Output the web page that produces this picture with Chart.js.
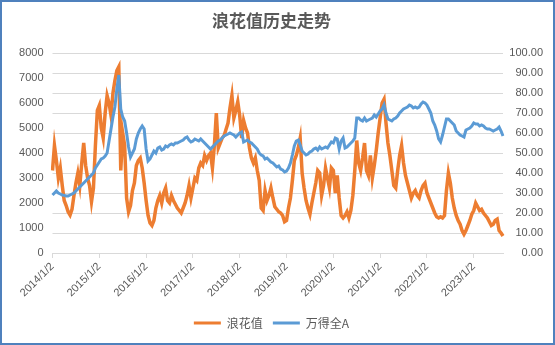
<!DOCTYPE html>
<html>
<head>
<meta charset="utf-8">
<script src="https://cdn.jsdelivr.net/npm/chart.js@4/dist/chart.umd.min.js"></script>
<style>
  html, body { margin: 0; padding: 0; background: #fff; }
  canvas { display: block; }
</style>
</head>
<body>
<canvas id="waveChart" width="555" height="345"></canvas>
<script>
// 半月一个点：每月2日、16日，2014/1 ~ 2023/8
const startYear = 2014;
const endYear = 2023;
const endMonth = 8;

// 浪花值（左轴）
const wave = [
  3300, 4300, 3700, 3000, 3400, 2700, 2100, 1900, 1650, 1520, 1750, 2300, 2800, 3200, 2700, 3600, 4400, 3500, 3000, 2700, 2050, 2600, 4300, 5700, // 2014
  5900, 5000, 4600, 5600, 6300, 6000, 5500, 6400, 6900, 7300, 7450, 3300, 4800, 4300, 2200, 1650, 1900, 2500, 2800, 3500, 3700, 3800, 3400, 2800, // 2015
  2100, 1500, 1200, 1100, 1300, 1800, 2100, 2300, 2000, 2400, 2600, 2100, 2000, 2300, 2100, 1950, 1800, 1700, 1600, 1800, 2000, 2300, 2700, 2200, // 2016
  2600, 3000, 2900, 3400, 3600, 3500, 3900, 3700, 3900, 4000, 3400, 4300, 5600, 4200, 4400, 4600, 4700, 4950, 5200, 5800, 6300, 5400, 5700, 6050, // 2017
  5500, 4600, 5300, 5000, 4800, 4200, 3800, 3600, 3800, 3300, 2900, 1800, 1700, 2500, 2100, 2300, 2600, 2200, 1850, 1750, 1650, 1600, 1500, 1250, // 2018
  1300, 1800, 2200, 2900, 3700, 3900, 4200, 4600, 3200, 2600, 2100, 1800, 1550, 2000, 2400, 2800, 3300, 3200, 2300, 2700, 3400, 3000, 2600, 3400, // 2019
  3300, 2400, 3100, 2200, 1500, 1400, 1500, 1650, 1400, 1700, 2300, 3300, 4500, 3600, 3300, 3800, 4400, 3300, 3100, 3900, 3000, 3500, 4100, 4800, // 2020
  5400, 6000, 6150, 5200, 4400, 3900, 3300, 2700, 2600, 3300, 3900, 4300, 3600, 3100, 2800, 2500, 2200, 2400, 2500, 2300, 2200, 2500, 2700, 2800, // 2021
  2400, 2200, 2000, 1800, 1600, 1450, 1400, 1450, 1400, 1500, 2500, 3200, 2800, 2200, 1800, 1500, 1300, 1150, 900, 750, 900, 1100, 1300, 1550,     // 2022
  1700, 2000, 1850, 1700, 1750, 1600, 1500, 1400, 1250, 1100, 1150, 1300, 1350, 900, 800, 680                                                      // 2023
];

// 万得全A（右轴）
const windA = [
  29, 30, 31, 30, 29.5, 29, 28.8, 28.5, 28.5, 29, 29.5, 30, 31, 32, 33, 34, 35, 36, 37, 38, 39, 40, 42.5, 44,               // 2014
  45.5, 47, 47.5, 48.5, 50, 56, 62, 68, 73, 82, 89, 72, 68, 66, 60, 53, 48, 50, 52, 57, 60, 62, 63.5, 62,                 // 2015
  52, 46, 47, 49, 51, 50, 52.5, 53, 51.5, 52, 53.5, 53, 54, 54.5, 54, 55, 55, 55.5, 56, 56.5, 57.5, 58, 56.5, 55.5,        // 2016
  56, 57, 56.5, 56, 57, 56, 55, 54, 53, 52, 53, 54, 55, 56, 56.5, 57.5, 58.5, 59, 59.5, 60, 59.5, 59, 58, 59,               // 2017
  60, 60.5, 55.5, 56, 56.5, 55.5, 55, 54, 53, 52, 50, 49, 48.5, 47, 47.5, 46.5, 45.5, 45, 44, 43, 43.5, 42, 41.5, 40.5,    // 2018
  41, 42.5, 45, 49, 53.5, 56, 56.5, 54, 51, 50, 49, 49.5, 50.5, 51, 52, 52.5, 51.5, 53, 52, 52.5, 53, 52.5, 54, 55.5,      // 2019
  55, 57.5, 57, 52, 56, 57.5, 52.5, 53, 54, 55, 56, 57.5, 67.5, 67.5, 66.5, 66, 67.5, 66, 66.5, 67, 67.5, 69, 68, 69.5,    // 2020
  71, 72, 74, 70, 67, 66.5, 66, 67, 67.5, 68.5, 70, 71, 72, 72.5, 73, 74, 73.5, 72.5, 73, 72.5, 73, 74.5, 75.5, 75,        // 2021
  74, 72, 70, 66, 64, 61, 57, 55.5, 59, 63, 67, 67, 66, 65, 64, 61, 60, 59, 58.5, 58, 61.5, 62, 62.5, 63.5,                // 2022
  65, 64.5, 64.5, 63.5, 64, 63.5, 62.5, 62, 62, 61.5, 61, 61.5, 62, 63, 61, 58.5                                           // 2023
];

const dates = [];
for (let y = startYear; y <= endYear; y++) {
  const lastMonth = (y === endYear) ? endMonth : 12;
  for (let m = 1; m <= lastMonth; m++) {
    dates.push(y + '/' + m + '/2');
    dates.push(y + '/' + m + '/16');
  }
}

const textColor = '#595959';
const gridColor = '#d9d9d9';
const numFont = { family: "'Liberation Sans', Arial, sans-serif", size: 11 };

// 外框
const frame = {
  id: 'frame',
  afterDraw(chart) {
    const c = chart.ctx;
    c.save();
    c.strokeStyle = '#4f81bd';
    c.lineWidth = 2;
    c.strokeRect(1, 1, chart.width - 2, chart.height - 2);
    c.restore();
  }
};

const ctx = document.getElementById('waveChart').getContext('2d');
new Chart(ctx, {
  type: 'line',
  data: {
    labels: dates,
    datasets: [
      {
        label: '浪花值',
        data: wave,
        yAxisID: 'y',
        borderColor: '#ed7d31',
        backgroundColor: '#ed7d31',
        borderWidth: 3.5,
        pointRadius: 0,
        tension: 0,
        order: 1
      },
      {
        label: '万得全A',
        data: windA,
        yAxisID: 'y1',
        borderColor: '#5b9bd5',
        backgroundColor: '#5b9bd5',
        borderWidth: 3,
        pointRadius: 0,
        tension: 0,
        order: 0
      }
    ]
  },
  options: {
    responsive: false,
    animation: false,
    layout: { padding: { left: 0, right: 12, top: 0, bottom: 6 } },
    plugins: {
      title: {
        display: true,
        text: '浪花值历史走势',
        color: textColor,
        font: { family: "'Noto Sans CJK SC', sans-serif", size: 17, weight: 'bold' },
        padding: { top: 10, bottom: 22.6 }
      },
      legend: {
        position: 'bottom',
        labels: {
          color: textColor,
          font: { family: "'Noto Sans CJK SC', sans-serif", size: 12 },
          boxWidth: 27,
          boxHeight: 3,
          padding: 10,
          sort: (a, b) => a.datasetIndex - b.datasetIndex,
          generateLabels(chart) {
            const items = Chart.defaults.plugins.legend.labels.generateLabels(chart);
            items.forEach(it => { it.fillStyle = it.strokeStyle; it.lineWidth = 0; });
            return items;
          }
        }
      },
      tooltip: { enabled: false }
    },
    scales: {
      x: {
        afterFit(scale) { scale.height = 54; },
        grid: { display: true, drawOnChartArea: false, drawTicks: true, tickLength: 5, color: gridColor },
        border: { color: gridColor },
        ticks: {
          autoSkip: false,
          minRotation: 45,
          maxRotation: 45,
          padding: 2,
          color: textColor,
          font: numFont,
          callback(value) {
            const l = this.getLabelForValue(value);
            return l.endsWith('/1/2') ? l : null;
          }
        }
      },
      y: {
        position: 'left',
        min: 0,
        max: 8000,
        afterFit(scale) { scale.width = 52.5; },
        grid: { display: false, drawTicks: false },
        border: { display: false },
        ticks: { stepSize: 1000, padding: 9, color: textColor, font: numFont, callback: v => String(v) }
      },
      y1: {
        position: 'right',
        min: 0,
        max: 100,
        afterFit(scale) { scale.width = 40; },
        grid: { color: gridColor, drawTicks: false },
        border: { display: false },
        ticks: {
          stepSize: 10,
          padding: 6,
          crossAlign: 'far',
          color: textColor,
          font: numFont,
          callback: v => v.toFixed(2)
        }
      }
    }
  },
  plugins: [frame]
});
</script>
</body>
</html>
